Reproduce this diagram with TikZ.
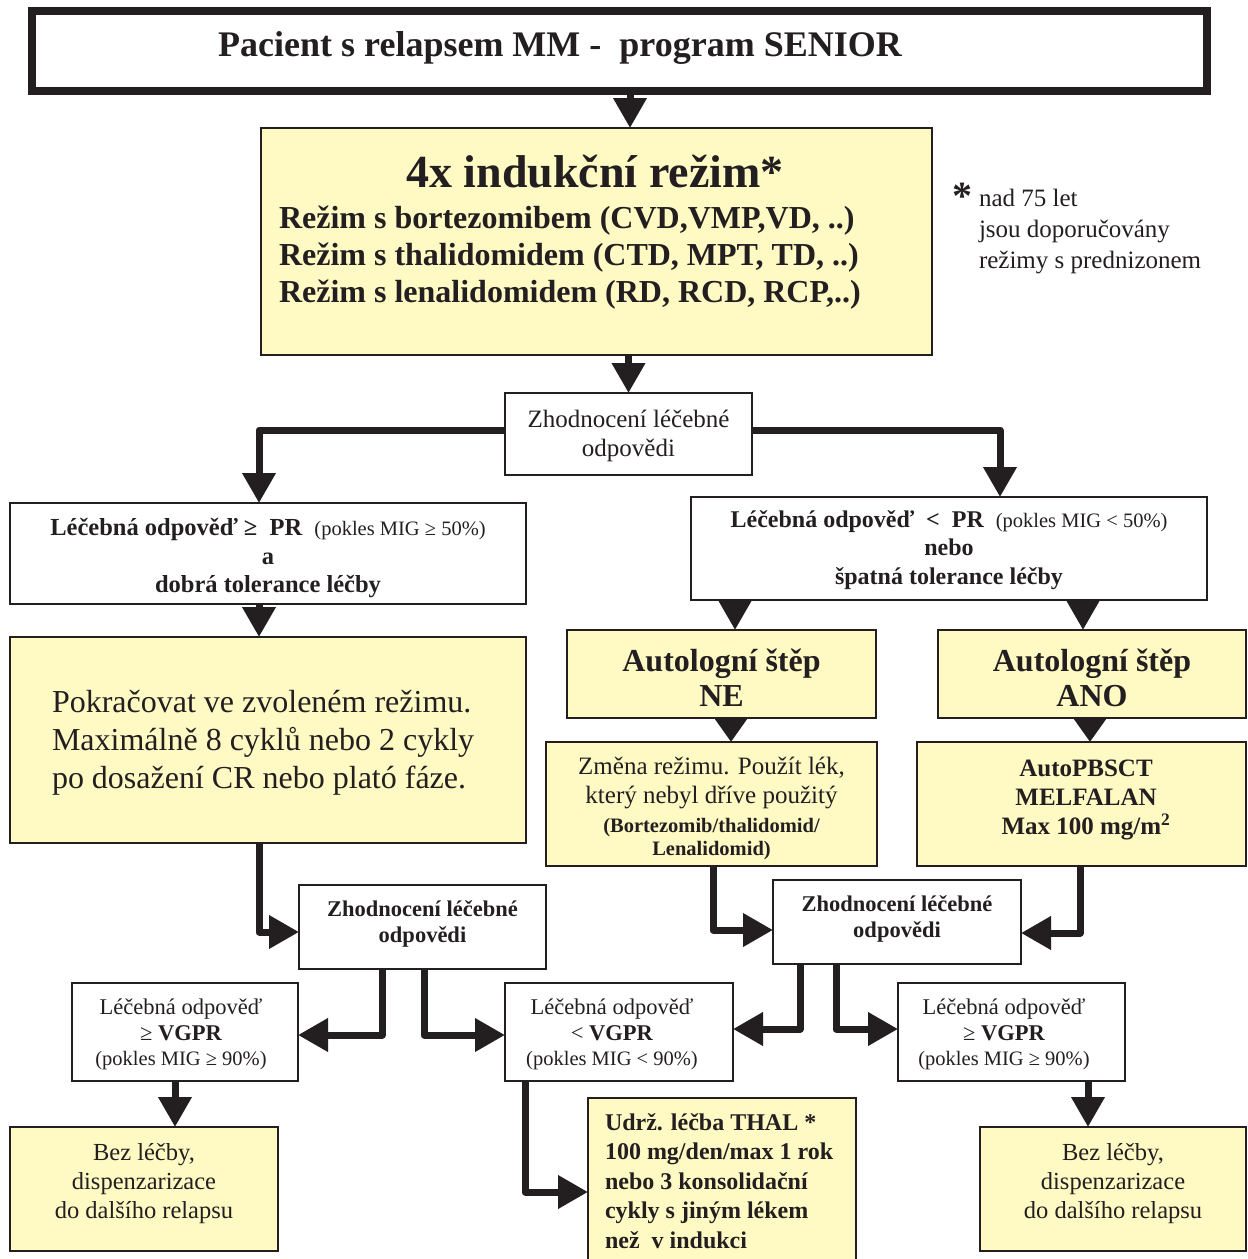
\documentclass[tikz,border=0pt]{standalone}
\usepackage{fontspec}
\setmainfont{Liberation Serif}
\usetikzlibrary{arrows.meta,calc}
\definecolor{ink}{RGB}{35,31,32}
\definecolor{pale}{RGB}{255,249,196}
\newcommand\fsz[2]{\fontsize{#1}{#2}\selectfont}
\begin{document}
\begin{tikzpicture}[x=1pt,y=-1pt,
 box/.style={draw=ink,line width=1.5pt,inner sep=0pt,outer sep=0pt},
 ybox/.style={box,fill=pale},
 wbox/.style={box,fill=white},
 txt/.style={inner sep=0pt,outer sep=0pt,text=ink,align=center},
 conn/.style={draw=ink,line width=7pt,line join=round,-{Triangle[length=30pt,width=32pt]}},
 sconn/.style={draw=ink,line width=7pt,line join=round,-{Triangle[length=24pt,width=32pt]}}]
\useasboundingbox (0,0) rectangle (1248,1259);
\clip (0,0) rectangle (1248,1259);
\fill[white] (0,0) rectangle (1248,1259);
% boxes
\node[box,fill=white,line width=8pt,minimum width=1175pt,minimum height=80pt] (title) at (619.5,51) {};
\node[ybox,minimum width=671pt,minimum height=227pt] (ind) at (596.5,241.5) {};
\node[wbox,minimum width=247pt,minimum height=82pt] (zh1) at (628.5,434) {};
\node[wbox,minimum width=516pt,minimum height=101pt] (prL) at (268,553.5) {};
\node[wbox,minimum width=516pt,minimum height=103pt] (prR) at (949,548.5) {};
\node[ybox,minimum width=516pt,minimum height=206pt] (pok) at (268,740) {};
\node[ybox,minimum width=309pt,minimum height=88pt] (ne) at (721.5,674) {};
\node[ybox,minimum width=308pt,minimum height=88pt] (ano) at (1092,674) {};
\node[ybox,minimum width=331pt,minimum height=124pt] (zm) at (711.5,804) {};
\node[ybox,minimum width=329pt,minimum height=124pt] (au) at (1081.5,804) {};
\node[wbox,minimum width=247pt,minimum height=84pt] (zh2) at (422.5,927) {};
\node[wbox,minimum width=248pt,minimum height=84pt] (zh3) at (897,922) {};
\node[wbox,minimum width=226pt,minimum height=98pt] (vgL) at (185,1032) {};
\node[wbox,minimum width=228pt,minimum height=98pt] (vgM) at (619,1032) {};
\node[wbox,minimum width=227pt,minimum height=98pt] (vgR) at (1011.5,1032) {};
\node[ybox,minimum width=268pt,minimum height=124pt] (bezL) at (144,1189) {};
\node[ybox,minimum width=266pt,minimum height=124pt] (bezR) at (1113,1189) {};
\node[ybox,minimum width=268pt,minimum height=167pt] (udrz) at (722,1181.5) {};
% connectors
\draw[conn] ($(title.south)+(10.5,0)$) -- ($(ind.north)+(33.5,0)$);
\draw[conn] ($(ind.south)+(32,0)$) -- (zh1.north);
\draw[conn] ($(zh1.west)+(0,-4)$) -| ($(prL.north)+(-9,0)$);
\draw[conn] ($(zh1.east)+(0,-4)$) -| ($(prR.north)+(51,0)$);
\draw[conn] ($(prL.south)+(-9,0)$) -- ($(pok.north)+(-9,0)$);
\draw[conn] ($(prR.south)+(-214,0)$) -- ($(ne.north)+(13.5,0)$);
\draw[conn] ($(prR.south)+(134,0)$) -- ($(ano.north)+(-9,0)$);
\draw[sconn] ($(ne.south)+(9.5,0)$) -- ($(zm.north)+(19.5,0)$);
\draw[sconn] ($(ano.south)+(-2,0)$) -- ($(au.north)+(8.5,0)$);
\draw[conn] ($(pok.south)+(-9,0)$) |- ($(zh2.west)+(0,5)$);
\draw[conn] ($(zm.south)+(1.5,0)$) |- ($(zh3.west)+(0,8)$);
\draw[conn] ($(au.south)+(-1.5,0)$) |- ($(zh3.east)+(0,11)$);
\draw[conn] ($(zh2.south)+(-40.5,0)$) |- ($(vgL.east)+(0,3)$);
\draw[conn] ($(zh2.south)+(1.5,0)$) |- ($(vgM.west)+(0,3)$);
\draw[conn] ($(zh3.south)+(-97,0)$) |- ($(vgM.east)+(0,-3)$);
\draw[conn] ($(zh3.south)+(-61,0)$) |- ($(vgR.west)+(0,-3)$);
\draw[conn] ($(vgL.south)+(-10,0)$) -- ($(bezL.north)+(31,0)$);
\draw[conn] ($(vgR.south)+(76.5,0)$) -- ($(bezR.north)+(-25,0)$);
\draw[conn] ($(vgM.south)+(-94,0)$) |- ($(udrz.west)+(0,10.5)$);
% texts
\node[txt,font=\bfseries\fsz{36}{40}] (titleT) at (560,48) {Pacient s relapsem MM -\ \ program SENIOR};
\node[txt,font=\bfseries\fsz{46}{50}] (indH) at (595,172) {4x indukční režim*};
\node[txt,align=left,anchor=west,font=\bfseries\fsz{32}{37}] (indL) at (279,258) {Režim s bortezomibem (CVD,VMP,VD, ..)\\Režim s thalidomidem (CTD, MPT, TD, ..)\\Režim s lenalidomidem (RD, RCD, RCP,..)};
\node[txt,font=\bfseries\fsz{40}{40}] (star) at (962,196) {*};
\node[txt,align=left,anchor=west,font=\fsz{25}{31}] (note) at (979,232) {nad 75 let\\jsou doporučovány\\režimy s prednizonem};
\node[txt,font=\fsz{25}{29}] (zh1T) at (628.5,436) {Zhodnocení léčebné\\odpovědi};
\node[txt,font=\bfseries\fsz{24.5}{28.5}] (prLT) at (268,558) {Léčebná odpověď ≥\ \ PR\ \ {\mdseries\fsz{20.5}{28.5}(pokles MIG ≥ 50\%)}\\a\\dobrá tolerance léčby};
\node[txt,font=\bfseries\fsz{24}{28.5}] (prRT) at (949,550) {Léčebná odpověď\ \ <\ \ PR\ \ {\mdseries\fsz{20.5}{28.5}(pokles MIG < 50\%)}\\nebo\\špatná tolerance léčby};
\node[txt,align=left,anchor=west,font=\fsz{32}{38}] (pokT) at (52,743) {Pokračovat ve zvoleném režimu.\\Maximálně 8 cyklů nebo 2 cykly\\po dosažení CR nebo plató fáze.};
\node[txt,font=\bfseries\fsz{32}{35}] (neT) at (721.5,677.5) {Autologní štěp\\NE};
\node[txt,font=\bfseries\fsz{32}{35}] (anoT) at (1092,677.5) {Autologní štěp\\ANO};
\node[txt,font=\fsz{25}{29}] (zmT) at (711.5,808) {Změna režimu. Použít lék,\\který nebyl dříve použitý\\{\bfseries\fsz{20.5}{29}(Bortezomib/thalidomid/}\\[-6pt]{\bfseries\fsz{20.5}{29}Lenalidomid)}};
\node[txt,font=\bfseries\fsz{25}{29}] (auT) at (1086,800) {AutoPBSCT\\MELFALAN\\Max 100 mg/m\textsuperscript{2}};
\node[txt,font=\bfseries\fsz{22.5}{26}] (zh2T) at (422.5,923.5) {Zhodnocení léčebné\\odpovědi};
\node[txt,font=\bfseries\fsz{22.5}{26}] (zh3T) at (897,919) {Zhodnocení léčebné\\odpovědi};
\node[txt,font=\fsz{22.5}{25.5}] (vgLT) at (181,1034.5) {Léčebná odpověď\\≥ \textbf{VGPR}\hspace*{34pt}\\{\fsz{20.5}{25.5}(pokles MIG ≥ 90\%)}};
\node[txt,font=\fsz{22.5}{25.5}] (vgMT) at (612,1034.5) {Léčebná odpověď\\< \textbf{VGPR}\hspace*{28pt}\\{\fsz{20.5}{25.5}(pokles MIG < 90\%)}};
\node[txt,font=\fsz{22.5}{25.5}] (vgRT) at (1004,1034.5) {Léčebná odpověď\\≥ \textbf{VGPR}\hspace*{27pt}\\{\fsz{20.5}{25.5}(pokles MIG ≥ 90\%)}};
\node[txt,font=\fsz{24.5}{29}] (bezLT) at (144,1184) {Bez léčby,\\dispenzarizace\\do dalšího relapsu};
\node[txt,font=\fsz{24.5}{29}] (bezRT) at (1113,1184) {Bez léčby,\\dispenzarizace\\do dalšího relapsu};
\node[txt,align=left,anchor=west,font=\bfseries\fsz{24}{29.5}] (udrzT) at (605,1181) {Udrž. léčba THAL *\\100 mg/den/max 1 rok\\nebo 3 konsolidační\\cykly s jiným lékem\\než\ \ v indukci};
\end{tikzpicture}
\end{document}
